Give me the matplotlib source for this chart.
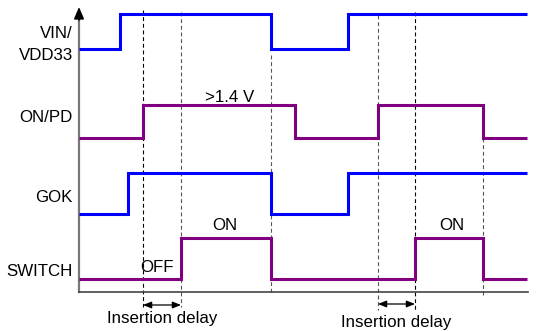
import matplotlib
matplotlib.use("Agg")
import matplotlib.pyplot as plt
import numpy as np

plt.rcParams['font.family'] = ['Liberation Sans', 'DejaVu Sans']

# ---- data: signal transition times (pixel-time units) and logic levels ----
signal_names = ["VIN/\nVDD33", "ON/PD", "GOK", "SWITCH"]
vin_edges = [79, 120, 271, 348, 527]
vin_levels = [0, 1, 0, 1]
onpd_edges = [79, 143, 295, 378, 483, 527]
onpd_levels = [0, 1, 0, 1, 0]
gok_edges = [79, 128, 271, 348, 527]
gok_levels = [0, 1, 0, 1]
sw_edges = [79, 181, 271, 415, 483, 527]
sw_levels = [0, 1, 0, 1, 0]

marker_times = [143, 181, 271, 378, 415, 483]
delay_windows = [(143, 181), (378, 415)]
delay_label = "Insertion delay"

# ---- layout ----
W, H, DPI = 536, 331, 100
fig = plt.figure(figsize=(W / DPI, H / DPI), dpi=DPI)
ax = fig.add_axes([0, 0, 1, 1])
ax.set_xlim(0, W)
ax.set_ylim(H, 0)
ax.axis('off')

BLUE = "#0000ff"
PURPLE = "#800080"
lw = 2.2

tracks = [
    (vin_edges, vin_levels, 49, 14, BLUE),
    (onpd_edges, onpd_levels, 138, 105, PURPLE),
    (gok_edges, gok_levels, 214, 173, BLUE),
    (sw_edges, sw_levels, 279, 238, PURPLE),
]
for edges, levels, ylow, yhigh, col in tracks:
    ys = [ylow + (yhigh - ylow) * v for v in levels]
    ax.stairs(ys, edges, baseline=None, color=col, lw=lw, zorder=3)

# dashed markers
dash_spans = [(10, 307, 'black'), (12, 307, '#555555'), (55, 293, '#555555'),
              (15, 310, '#555555'), (12, 310, 'black'), (138, 295, '#555555')]
for t, (y0, y1, c) in zip(marker_times, dash_spans):
    ax.plot([t, t], [y0, y1], ls=(0, (3.5, 2.5)), color=c, lw=0.8, zorder=1)

# axes
ax.plot([79, 79], [292, 16], color='#777777', lw=1.6, zorder=2)
ax.plot([79, 528], [292, 292], color='#444444', lw=1.2, zorder=2)
ax.annotate('', xy=(79, 7), xytext=(79, 20),
            arrowprops=dict(arrowstyle='-|>,head_length=0.7,head_width=0.3',
                            color='black', lw=1.2, shrinkA=0, shrinkB=0))
ax.annotate('', xy=(537, 292), xytext=(524, 292),
            arrowprops=dict(arrowstyle='-|>,head_length=0.7,head_width=0.3',
                            color='black', lw=1.2, shrinkA=0, shrinkB=0))

# labels
fs = 12.2
ax.text(73, 34, "VIN/", ha='right', va='center', fontsize=fs)
ax.text(73, 56, "VDD33", ha='right', va='center', fontsize=fs)
ax.text(73, 118, signal_names[1], ha='right', va='center', fontsize=fs)
ax.text(73, 197, signal_names[2], ha='right', va='center', fontsize=fs)
ax.text(73, 271, signal_names[3], ha='right', va='center', fontsize=fs)

ax.text(230, 97, ">1.4 V", ha='center', va='center', fontsize=fs)
ax.text(225, 225, "ON", ha='center', va='center', fontsize=fs)
ax.text(157, 268, "OFF", ha='center', va='center', fontsize=fs)
ax.text(452, 225, "ON", ha='center', va='center', fontsize=fs)

for (a, b), ya, yt in zip(delay_windows, [305, 304], [319, 322]):
    ax.annotate('', xy=(b, ya), xytext=(a, ya),
                arrowprops=dict(arrowstyle='<|-|>,head_length=0.5,head_width=0.2',
                                color='black', lw=0.9, shrinkA=0, shrinkB=0))
    ax.text((a + b) / 2, yt, delay_label, ha='center', va='center', fontsize=fs)

fig.savefig("out.png", dpi=DPI)
